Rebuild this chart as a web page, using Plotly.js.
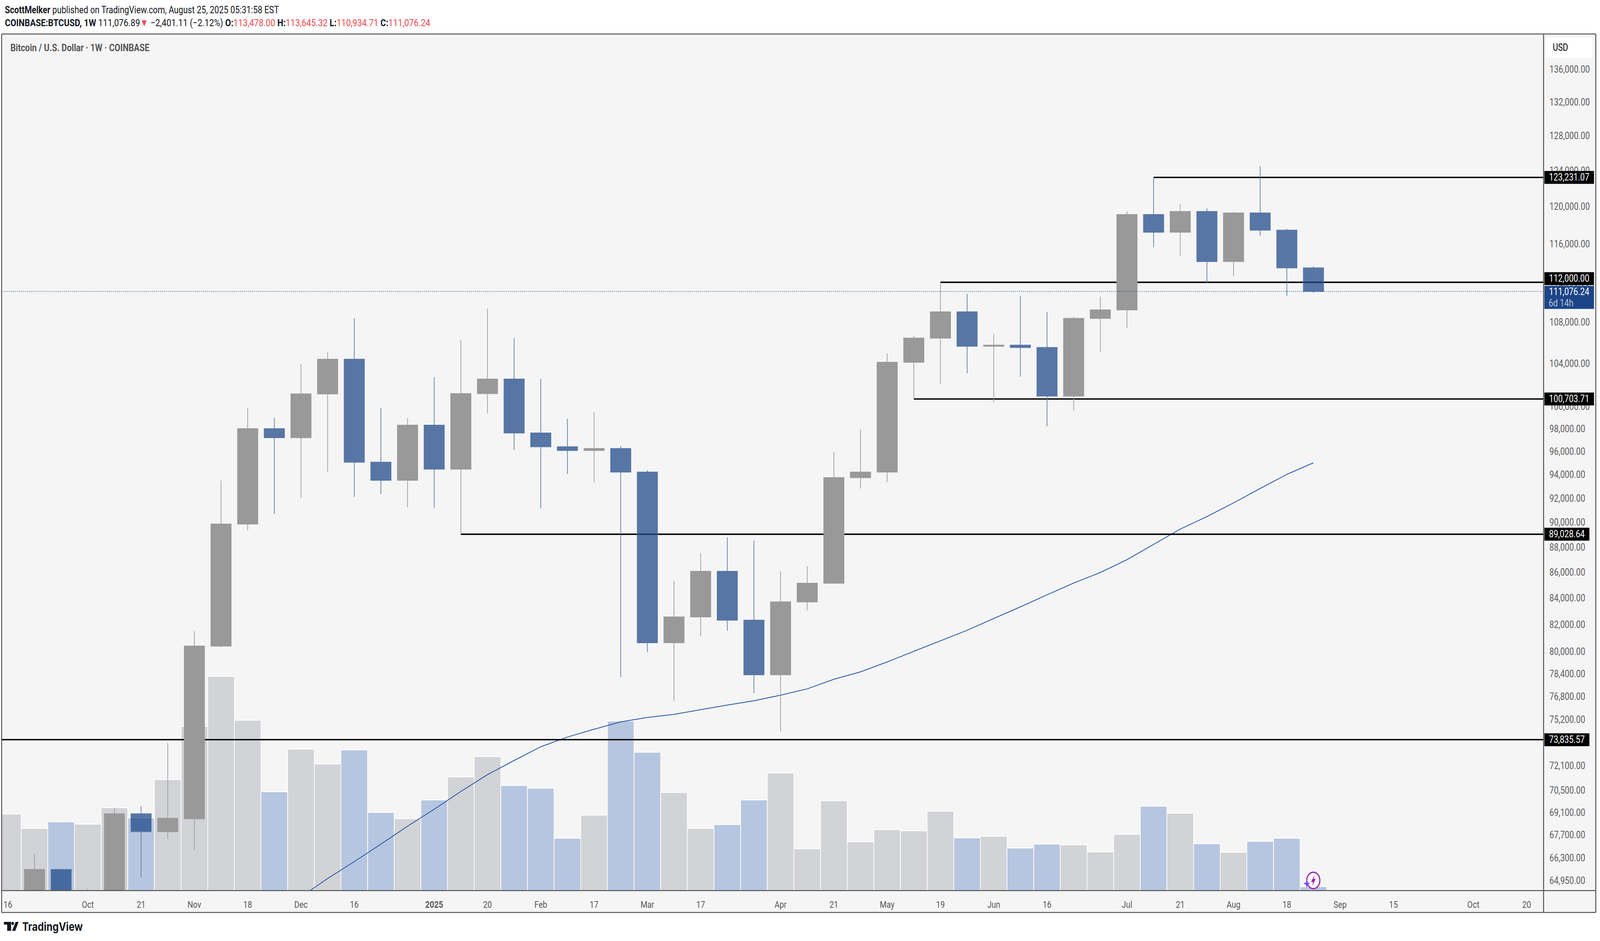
<!DOCTYPE html>
<html>
<head>
<meta charset="utf-8">
<script src="https://cdn.plot.ly/plotly-3.0.1.min.js"></script>
<style>html,body{margin:0;padding:0;background:#fff;overflow:hidden}#chart{width:4906px;height:2408px;transform-origin:0 0}</style>
</head>
<body>
<div id="chart"></div>
<script>
// ---------- data ----------
const weeks = ["2024-09-16","2024-09-23","2024-09-30","2024-10-07","2024-10-14","2024-10-21","2024-10-28","2024-11-04","2024-11-11","2024-11-18","2024-11-25","2024-12-02","2024-12-09","2024-12-16","2024-12-23","2024-12-30","2025-01-06","2025-01-13","2025-01-20","2025-01-27","2025-02-03","2025-02-10","2025-02-17","2025-02-24","2025-03-03","2025-03-10","2025-03-17","2025-03-24","2025-03-31","2025-04-07","2025-04-14","2025-04-21","2025-04-28","2025-05-05","2025-05-12","2025-05-19","2025-05-26","2025-06-02","2025-06-09","2025-06-16","2025-06-23","2025-06-30","2025-07-07","2025-07-14","2025-07-21","2025-07-28","2025-08-04","2025-08-11","2025-08-18","2025-08-25"];
const opens = [59000,63300,65600,62800,62900,69010,67900,68700,80410,89860,98020,97220,101170,104420,95070,93520,98330,94470,101200,102550,97630,96420,96090,96260,94220,80650,82570,86070,82330,78330,83710,85140,93740,94220,104130,106450,109030,105660,105770,105540,100970,108380,109220,119130,117230,119460,114140,119300,117450,113478.00];
const highs = [64100,66540,65640,64470,69400,69500,73610,81510,93490,99850,99000,103970,105090,108380,99880,98970,102720,106300,109340,106450,102580,98900,99500,96470,94380,85300,87500,88780,88530,86070,86480,95950,97950,104980,106680,112000,110830,106870,110620,108990,108530,110550,119460,123231.07,120270,119810,119400,124510,117610,113645.32];
const lows = [57600,62700,59800,58900,62000,65140,67450,66780,80330,89350,90690,92030,94250,92120,92350,91250,91210,89028.64,99380,96150,91140,94060,93320,78170,79960,76490,81110,81540,77030,74400,83060,85100,92810,93350,100703.71,102070,103090,100390,102770,98230,99660,105090,107410,115650,114710,111920,112620,116860,110620,110934.71];
const closes = [63300,65600,62800,62900,69010,67900,68730,80410,89860,98020,97220,101170,104420,95070,93520,98330,94470,101200,102550,97630,96420,96090,96260,94220,80650,82570,86070,82330,78330,83710,85140,93740,94220,104130,106450,109030,105660,105770,105540,100970,108380,109220,119130,117230,119460,114140,119300,117450,113478,111076.24];
const volumes = [196,159,176,170,212,186,284,420,548,436,253,362,324,360,200,184,232,291,343,269,262,134,193,434,354,251,159,169,232,301,107,230,125,156,153,203,135,139,109,119,117,99,144,216,198,120,98,126,134,10];
const maWeeks = weeks.slice(11);
const maValues = [63990,65060,66070,67130,68240,69300,70430,71520,72450,73360,74010,74540,75040,75340,75560,75880,76200,76500,76890,77330,78010,78540,79250,80020,80800,81570,82450,83330,84250,85160,85980,86990,88210,89450,90470,91610,92820,94020,95020];
const levelValues = [123231.07,112000.00,100703.71,89028.64,73835.57];
const levelStarts = ["2025-07-14","2025-05-19","2025-05-12","2025-01-13","2024-09-14 08:38"];
const lastPrice = 111076.24;
const priceTicks = [136000,132000,128000,124000,120000,116000,112000,108000,104000,100000,98000,96000,94000,92000,90000,88000,86000,84000,82000,80000,78400,76800,75200,73700,72100,70500,69100,67700,66300,64950];
const timeTickVals = ["2024-09-16","2024-10-07","2024-10-21","2024-11-04","2024-11-18","2024-12-02","2024-12-16","2025-01-06","2025-01-20","2025-02-03","2025-02-17","2025-03-03","2025-03-17","2025-04-07","2025-04-21","2025-05-05","2025-05-19","2025-06-02","2025-06-16","2025-07-07","2025-07-21","2025-08-04","2025-08-18","2025-09-01","2025-09-15","2025-10-06","2025-10-20"];
const timeTickText = ["16","Oct","21","Nov","18","Dec","16","<b>2025</b>","20","Feb","17","Mar","17","Apr","21","May","19","Jun","16","Jul","21","Aug","18","Sep","15","Oct","20"];

// ---------- axes ----------
const xRange = ["2024-09-14 08:38","2025-10-24 10:48"];
const priceRange = [4.80855,5.14730];
const volumeRange = [0,2191];
const FONT = "Roboto, sans-serif";
const fmt = v => v.toLocaleString("en-US",{minimumFractionDigits:2,maximumFractionDigits:2});

// page pixels -> paper coordinates, used only for the frame and decorations
const W=4906,H=2408,L=5,R=4733,T=88,B=2279;
const px = x => (x-L)/(R-L);
const py = y => (B-y)/(B-T);

// the chart is laid out at the full size; if the window is narrower, fit it to the window
document.getElementById("chart").style.transform =
  "scale("+Math.min(1,window.innerWidth/W)+","+Math.min(1,window.innerHeight/H)+")";

// ---------- traces ----------
const UP_VOL="#d2d3d6", DOWN_VOL="#b7c6e0";
const traces = [
 {type:"bar",x:weeks,y:volumes,xaxis:"x",yaxis:"y",
  marker:{color:closes.map((c,i)=>c>=opens[i]?UP_VOL:DOWN_VOL),line:{color:"#ffffff",width:2}},hoverinfo:"skip"},
 {type:"scatter",mode:"lines",x:maWeeks,y:maValues,xaxis:"x",yaxis:"y2",line:{color:"#1c51a8",width:2},hoverinfo:"skip"}
];
levelValues.forEach((v,i)=>traces.push({type:"scatter",mode:"lines",x:[levelStarts[i],xRange[1]],y:[v,v],xaxis:"x",yaxis:"y2",
  line:{color:"#000000",width:3.6},hoverinfo:"skip"}));
traces.push({type:"candlestick",x:weeks,open:opens,high:highs,low:lows,close:closes,xaxis:"x",yaxis:"y3",whiskerwidth:0,
  increasing:{line:{color:"#999999",width:2},fillcolor:"#999999"},
  decreasing:{line:{color:"#5776a5",width:2},fillcolor:"rgba(31,73,136,0.74)"},hoverinfo:"skip"});
traces.push({type:"scatter",mode:"lines",x:xRange,y:[lastPrice,lastPrice],xaxis:"x",yaxis:"y3",
  line:{color:"#1e4fa3",width:2,dash:"2px 4px"},hoverinfo:"skip"});

// ---------- frame and decorations ----------
const rect=(x0,y0,x1,y1,extra)=>Object.assign({type:"rect",xref:"paper",yref:"paper",x0:px(x0),x1:px(x1),y0:py(y0),y1:py(y1),line:{width:0}},extra);
const poly=(pts,fill)=>({type:"path",xref:"paper",yref:"paper",fillcolor:fill,line:{width:0},
  path:"M"+pts.map(p=>px(p[0])+" "+py(p[1])).join(" L")+" Z"});
const hline=(x0,x1,y)=>({type:"line",xref:"paper",yref:"paper",x0:px(x0),x1:px(x1),y0:py(y),y1:py(y),line:{color:"#555555",width:2.5}});
const vline=(x,y0,y1)=>({type:"line",xref:"paper",yref:"paper",x0:px(x),x1:px(x),y0:py(y0),y1:py(y1),line:{color:"#555555",width:3}});
const shapes=[
 rect(4733,87,4893,2335,{fillcolor:"#f5f5f5",layer:"below"}),
 rect(5,2279,4733,2335,{fillcolor:"#f5f5f5",layer:"below"}),
 hline(5,4893,87),hline(5,4893,2335),hline(5,4893,2279),
 vline(5,87,2335),vline(4733,87,2335),vline(4893,87,2335),
 rect(4740,96,4883,148,{fillcolor:"#ffffff"}),
 // TradingView logo
 poly([[12,2359],[34,2359],[34,2382],[22,2382],[22,2366],[12,2366]],"#131722"),
 {type:"circle",xref:"paper",yref:"paper",x0:px(35),x1:px(43),y0:py(2359),y1:py(2367),fillcolor:"#131722",line:{width:0}},
 poly([[48,2359],[57,2359],[47,2382],[37,2382]],"#131722"),
 // bolt badge
 {type:"circle",xref:"paper",yref:"paper",x0:px(4007),x1:px(4047),y0:py(2232),y1:py(2274),fillcolor:"#ffffff",line:{color:"#9c27b0",width:3.5}},
 poly([[4031,2239],[4020,2257],[4026,2257],[4024,2268],[4034,2249],[4028,2249]],"#9c27b0"),
 poly([[4007,2250],[4010,2258],[4017,2261],[4010,2264],[4007,2272],[4004,2264],[3997,2261],[4004,2258]],"#7c4dff")
];

// ---------- text ----------
const RED="#f0484e";
const red=t=>"<span style='color:"+RED+"'>"+t+"</span>";
const note=(text,x,y,size,color,extra)=>Object.assign({text:text,xref:"paper",yref:"paper",x:px(x),y:py(y),xanchor:"left",yanchor:"middle",
  showarrow:false,align:"left",font:{family:FONT,size:size,color:color}},extra);
const badge=(v,w,yshift)=>({text:fmt(v),xref:"paper",yref:"y2",x:px(4735),y:Math.log10(v),xanchor:"left",yanchor:"middle",showarrow:false,
  width:w,height:32,align:"center",bgcolor:"#000000",borderpad:0,yshift:yshift,font:{family:FONT,size:25,color:"#ffffff"}});
const annotations=[
 note("<b>ScottMelker</b> published on TradingView.com, August 25, 2025 05:31:58 EST",13,25,25.4,"#131722"),
 note("<b>COINBASE:BTCUSD, 1W</b> 111,076.89"+red("▼")+" −2,401.11 (−2.12%) <b>O:</b>"+red("113,478.00")+" <b>H:</b>"+red("113,645.32")+" <b>L:</b>"+red("110,934.71")+" <b>C:</b>"+red("111,076.24"),13,58,25.9,"#131722"),
 note("<b>Bitcoin / U.S. Dollar · 1W · COINBASE</b>",30,122,25.6,"#555555"),
 note("USD",4759,121,25,"#000000"),
 note("<b>TradingView</b>",66,2371,30,"#131722",{font:{family:"Inter, sans-serif",size:30,color:"#131722"}}),
 badge(123231.07,151,0),
 badge(112000.00,151,9),
 badge(100703.71,151,0),
 badge(89028.64,137,0),
 badge(73835.57,137,0),
 {text:fmt(lastPrice),xref:"paper",yref:"y2",x:px(4735),y:Math.log10(lastPrice),xanchor:"left",yanchor:"middle",showarrow:false,width:151,height:30,align:"center",
  bgcolor:"#1c4587",borderpad:0,yshift:-1,font:{family:FONT,size:25,color:"#ffffff"}},
 {text:"&nbsp;&nbsp;6d 14h",xref:"paper",yref:"y2",x:px(4735),y:Math.log10(lastPrice),xanchor:"left",yanchor:"middle",showarrow:false,width:151,height:29,align:"left",
  bgcolor:"#1c4587",borderpad:0,yshift:-30,font:{family:FONT,size:25,color:"#b5c3db"}}
];

const layout={
 width:W,height:H,autosize:false,showlegend:false,
 paper_bgcolor:"#ffffff",plot_bgcolor:"#f5f5f5",
 margin:{l:L,r:W-R,t:T,b:H-B,pad:0},
 boxgap:0.24,boxgroupgap:0,bargap:0,hovermode:false,dragmode:false,
 xaxis:{type:"date",range:xRange,tickmode:"array",tickvals:timeTickVals,ticktext:timeTickText,showgrid:false,zeroline:false,showline:false,
  ticks:"outside",ticklen:14,tickcolor:"rgba(0,0,0,0)",tickfont:{family:FONT,size:24,color:"#555555"},tickangle:0,rangeslider:{visible:false},automargin:false},
 yaxis:{range:volumeRange,visible:false,fixedrange:true},
 yaxis2:{type:"log",range:priceRange,overlaying:"y",side:"right",anchor:"x",showgrid:false,zeroline:false,showline:false,
  tickmode:"array",tickvals:priceTicks,ticktext:priceTicks.map(fmt),ticks:"outside",ticklen:12,tickcolor:"rgba(0,0,0,0)",
  tickfont:{family:FONT,size:25,color:"#5c5c5c"},automargin:false},
 yaxis3:{type:"log",range:priceRange,overlaying:"y",side:"right",anchor:"x",visible:false},
 shapes:shapes,annotations:annotations
};
Plotly.newPlot("chart",traces,layout,{displayModeBar:false,staticPlot:true});
</script>
</body>
</html>
